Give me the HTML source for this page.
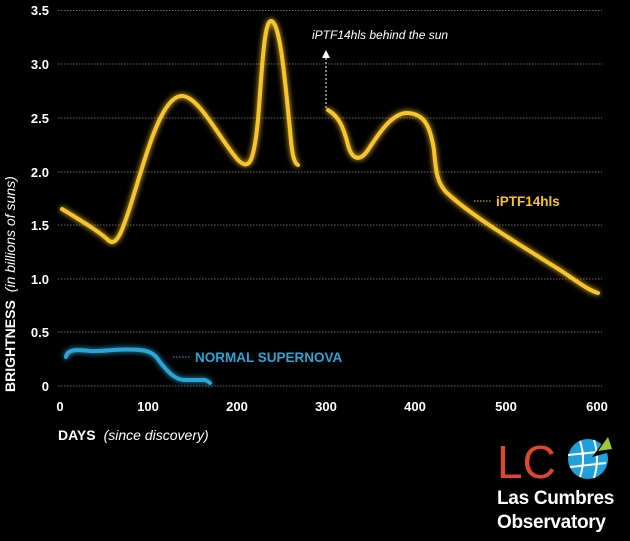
<!DOCTYPE html>
<html><head><style>
body{margin:0;background:#000;width:630px;height:536px;overflow:hidden;font-family:"Liberation Sans",sans-serif}
</style></head><body>
<svg width="630" height="536" viewBox="0 0 630 536" xmlns="http://www.w3.org/2000/svg">
<defs>
<filter id="g" x="-20%" y="-20%" width="140%" height="140%"><feGaussianBlur stdDeviation="3" result="b"/><feMerge><feMergeNode in="b"/><feMergeNode in="SourceGraphic"/></feMerge></filter>
</defs>
<g stroke="#666" stroke-width="1" stroke-dasharray="1.5,1.5">
<line x1="58" x2="602" y1="10.5" y2="10.5"/><line x1="58" x2="602" y1="64" y2="64"/>
<line x1="58" x2="602" y1="118" y2="118"/><line x1="58" x2="602" y1="172" y2="172"/>
<line x1="58" x2="602" y1="225" y2="225"/><line x1="58" x2="602" y1="279" y2="279"/>
<line x1="58" x2="602" y1="332" y2="332"/><line x1="58" x2="602" y1="386" y2="386"/>
</g>
<g fill="#fff" font-weight="bold" font-size="13" text-anchor="end">
<text x="49" y="15">3.5</text><text x="49" y="69">3.0</text><text x="49" y="123">2.5</text>
<text x="49" y="177">2.0</text><text x="49" y="230">1.5</text><text x="49" y="284">1.0</text>
<text x="49" y="337">0.5</text><text x="49" y="391">0</text>
</g>
<g fill="#fff" font-weight="bold" font-size="13" text-anchor="middle">
<text x="60" y="411">0</text><text x="148" y="411">100</text><text x="237" y="411">200</text>
<text x="326" y="411">300</text><text x="415" y="411">400</text><text x="506" y="411">500</text><text x="597" y="411">600</text>
</g>
<text x="58" y="440" fill="#fff" font-size="14"><tspan font-weight="bold">DAYS</tspan><tspan font-style="italic" dx="8">(since discovery)</tspan></text>
<text transform="translate(15,392) rotate(-90)" fill="#fff" font-size="14"><tspan font-weight="bold">BRIGHTNESS</tspan><tspan font-style="italic" dx="8">(in billions of suns)</tspan></text>
<g fill="none" stroke="#f7c52a" stroke-width="4" stroke-linecap="round" stroke-linejoin="round" filter="url(#g)">
<path d="M62,209 C80,220 100,232 108,240 C116,248 122,232 130,207 C145,160 160,98 181,96 C198,94 220,140 238,160 C250,172 254,160 258,120 C262,70 264,21 271,21 C280,21 285,80 290,130 C292,155 294,163 298,165"/>
<path d="M328,110 C338,116 343,125 348,145 C352,160 360,162 368,150 C378,135 392,112 408,113 C424,114 430,125 434,150 C436,175 438,183 446,192 C470,215 520,245 560,270 C578,282 588,290 598,293"/>
</g>
<path d="M66,357 C67,350 75,349 90,351 C105,352 115,348 140,350 C150,351 155,354 160,362 C168,372 175,380 185,380 L205,380 C208,381 210,383 210,383" fill="none" stroke="#2aa5d6" stroke-width="4" stroke-linecap="round" filter="url(#g)"/>
<line x1="173" x2="190" y1="357" y2="357" stroke="#2aa5d6" stroke-dasharray="1.5,1.5"/>
<text x="195" y="362" fill="#2aa5d6" font-weight="bold" font-size="13.5">NORMAL SUPERNOVA</text>
<line x1="474" x2="491" y1="201" y2="201" stroke="#f7c52a" stroke-dasharray="1.5,1.5"/>
<text x="496" y="206" fill="#f7c52a" font-weight="bold" font-size="13.5">iPTF14hls</text>
<line x1="326" x2="326" y1="108" y2="56" stroke="#fff" stroke-dasharray="2,2"/>
<path d="M322,58 L326,50 L330,58 Z" fill="#fff"/>
<text x="312" y="39" fill="#fff" font-style="italic" font-size="12">iPTF14hls behind the sun</text>
<text x="497" y="478" fill="#e0452f" font-size="46">LC</text>
<g transform="translate(588,459)">
<circle r="20" fill="#1fa0dc"/>
<path d="M-20,-4 L20,-8 M-18,8 L18,4 M-8,-18 Q-2,0 -8,18 M6,-19 Q12,0 6,19" stroke="#fff" stroke-width="2" fill="none"/>
<path d="M4,-2 L22,-26 L26,-8 Z" fill="#000"/>
<path d="M10,-8 L20,-22 L24,-10 Z" fill="#9bc93b"/>
</g>
<text x="497" y="504" fill="#fff" font-size="19" font-weight="bold" letter-spacing="-0.3">Las Cumbres</text>
<text x="497" y="528" fill="#fff" font-size="19" font-weight="bold" letter-spacing="-0.3">Observatory</text>
</svg>
</body></html>
